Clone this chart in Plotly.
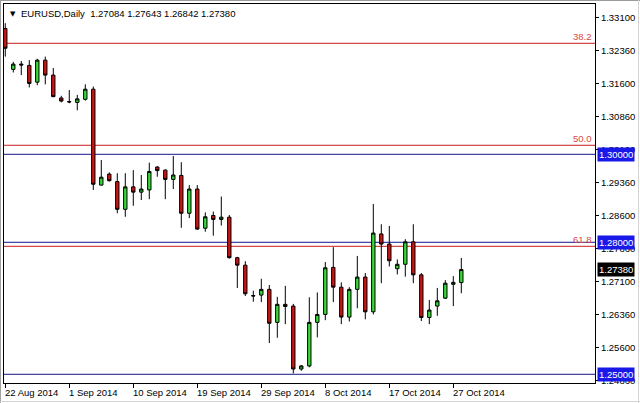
import plotly.graph_objects as go

# ---- data (EURUSD daily) ----
date_tick_labels = ["22 Aug 2014", "1 Sep 2014", "10 Sep 2014", "19 Sep 2014",
                    "29 Sep 2014", "8 Oct 2014", "17 Oct 2014", "27 Oct 2014"]
date_tick_index = [0, 8, 16, 24, 32, 40, 48, 56]

open_ = [1.3286, 1.3193, 1.3205, 1.3202, 1.3164, 1.3214, 1.3180, 1.3128, 1.3120, 1.3118,
         1.3125, 1.3148, 1.2930, 1.2955, 1.2938, 1.2875, 1.2926, 1.2914, 1.2919, 1.2971,
         1.2964, 1.2943, 1.2952, 1.2866, 1.2921, 1.2832, 1.2861, 1.2852, 1.2857, 1.2765,
         1.2748, 1.2679, 1.2680, 1.2693, 1.2618, 1.2659, 1.2655, 1.2512, 1.2519, 1.2618,
         1.2636, 1.2743, 1.2698, 1.2630, 1.2693, 1.2721, 1.2642, 1.2819, 1.2796, 1.2740,
         1.2750, 1.2801, 1.2726, 1.2629, 1.2655, 1.2673, 1.27045, 1.27084]
high = [1.3298, 1.3210, 1.3212, 1.3214, 1.3217, 1.3222, 1.3196, 1.3133, 1.3146, 1.3135,
        1.3159, 1.3154, 1.2987, 1.2959, 1.2957, 1.2957, 1.2964, 1.2953, 1.2981, 1.2973,
        1.2966, 1.2996, 1.2982, 1.2930, 1.2930, 1.2868, 1.2870, 1.2904, 1.2862, 1.2767,
        1.2757, 1.2690, 1.2717, 1.2703, 1.2676, 1.2701, 1.2660, 1.2521, 1.2675, 1.2686,
        1.2755, 1.2789, 1.2709, 1.2698, 1.2769, 1.2730, 1.2887, 1.2841, 1.2837, 1.2761,
        1.2807, 1.2841, 1.2730, 1.2669, 1.2696, 1.2714, 1.2723, 1.27643]
low = [1.3222, 1.3186, 1.3180, 1.3152, 1.3157, 1.3159, 1.3130, 1.3118, 1.3116, 1.3100,
       1.3122, 1.2919, 1.2929, 1.2938, 1.2866, 1.2858, 1.2883, 1.2896, 1.2898, 1.2949,
       1.2898, 1.2921, 1.2833, 1.2855, 1.2828, 1.2824, 1.2815, 1.2838, 1.2763, 1.2696,
       1.2678, 1.2665, 1.2664, 1.2571, 1.2583, 1.2614, 1.2502, 1.2508, 1.2516, 1.2584,
       1.2623, 1.2664, 1.2614, 1.2620, 1.2650, 1.2625, 1.2636, 1.2707, 1.2745, 1.2727,
       1.2722, 1.2707, 1.2621, 1.2614, 1.2633, 1.2671, 1.2655, 1.26842]
close = [1.3241, 1.3205, 1.3203, 1.3161, 1.3214, 1.3180, 1.3131, 1.3121, 1.3119, 1.3126,
         1.3148, 1.2932, 1.2948, 1.2940, 1.2875, 1.2926, 1.2914, 1.2921, 1.2961, 1.2963,
         1.2943, 1.2953, 1.2866, 1.2921, 1.2830, 1.2858, 1.2852, 1.2857, 1.2765, 1.2748,
         1.2683, 1.2678, 1.2693, 1.2616, 1.2659, 1.2654, 1.2512, 1.2519, 1.2618, 1.2636,
         1.2742, 1.2698, 1.2630, 1.2693, 1.2721, 1.2642, 1.2821, 1.2796, 1.2758, 1.2750,
         1.2801, 1.2726, 1.2629, 1.2646, 1.2667, 1.2707, 1.2709, 1.27380]
bar_index = list(range(len(open_)))

price_ticks = [1.33100, 1.32360, 1.31600, 1.30860, 1.30100, 1.29360,
               1.28600, 1.27860, 1.27100, 1.26360, 1.25600, 1.24860]

round_levels = [1.30000, 1.28000, 1.25000]
fib_levels = [1.32523, 1.30205, 1.27909]
fib_labels = ["38.2", "50.0", "61.8"]
last_price = 1.27380
header_text = "EURUSD,Daily  1.27084 1.27643 1.26842 1.27380"

# ---- styling ----
FONT = "Liberation Sans, Arial, sans-serif"
BULL = "#36DC36"
BEAR = "#CC1414"
FIB_COLOR = "#C81E1E"
LEVEL_COLOR = "#14148C"

W, H = 640, 403
ML, MR, MT, MB = 4, 45, 4, 20
PW, PH = W - ML - MR, H - MT - MB


def px_x(p):
    return (p - ML) / PW


def px_y(p):
    return (H - MB - p) / PH


fig = go.Figure()
fig.add_trace(go.Candlestick(
    x=bar_index, open=open_, high=high, low=low, close=close,
    increasing=dict(fillcolor=BULL, line=dict(color="black", width=1)),
    decreasing=dict(fillcolor=BEAR, line=dict(color="black", width=1)),
    whiskerwidth=0, hoverinfo="skip",
))

shapes = []
for lv in fib_levels:
    shapes.append(dict(type="line", xref="paper", x0=0, x1=1, yref="y", y0=lv, y1=lv,
                       line=dict(color=FIB_COLOR, width=1), layer="below"))
for lv in round_levels:
    shapes.append(dict(type="line", xref="paper", x0=0, x1=1, yref="y", y0=lv, y1=lv,
                       line=dict(color=LEVEL_COLOR, width=1), layer="below"))
# outer window frame (light gray)
shapes.append(dict(type="line", xref="paper", yref="paper",
                   x0=px_x(0), x1=px_x(W), y0=px_y(0.5), y1=px_y(0.5),
                   line=dict(color="#9A9A9A", width=1)))
shapes.append(dict(type="line", xref="paper", yref="paper",
                   x0=px_x(W - 1.5), x1=px_x(W - 1.5), y0=px_y(0), y1=px_y(H),
                   line=dict(color="#D4D4D4", width=1)))
shapes.append(dict(type="line", xref="paper", yref="paper",
                   x0=px_x(0.5), x1=px_x(0.5), y0=px_y(0), y1=px_y(H),
                   line=dict(color="#A0A0A0", width=1)))
shapes.append(dict(type="line", xref="paper", yref="paper",
                   x0=px_x(0), x1=px_x(W), y0=px_y(H - 1.5), y1=px_y(H - 1.5),
                   line=dict(color="#D4D4D4", width=1)))

annotations = []
for lv, lab in zip(fib_levels, fib_labels):
    annotations.append(dict(xref="paper", x=1, yref="y", y=lv, text=lab,
                            xanchor="right", yanchor="bottom", xshift=-1, yshift=-1,
                            showarrow=False, font=dict(family=FONT, size=9.5, color="#D84848")))
for lv in round_levels:
    annotations.append(dict(xref="paper", x=1, yref="y", y=lv, text=f"{lv:.5f}",
                            xanchor="left", yanchor="middle", xshift=2,
                            showarrow=False, bgcolor="#1818E8", borderpad=1,
                            font=dict(family=FONT, size=9.5, color="white")))
annotations.append(dict(xref="paper", x=1, yref="y", y=last_price, text=f"{last_price:.5f}",
                        xanchor="left", yanchor="middle", xshift=2,
                        showarrow=False, bgcolor="black", borderpad=1,
                        font=dict(family=FONT, size=9.5, color="white")))
for xi, lab in zip(date_tick_index, date_tick_labels):
    annotations.append(dict(xref="x", x=xi, yref="paper", y=0, text=lab,
                            xanchor="left", yanchor="top", xshift=-2, yshift=-2,
                            showarrow=False, font=dict(family=FONT, size=9.5, color="black")))
annotations.append(dict(xref="paper", x=0, yref="paper", y=1, text="▼",
                        xanchor="left", yanchor="top", xshift=4, yshift=-4,
                        showarrow=False, font=dict(family="DejaVu Sans", size=7, color="black")))
annotations.append(dict(xref="paper", x=0, yref="paper", y=1, text=header_text,
                        xanchor="left", yanchor="top", xshift=15, yshift=-2,
                        showarrow=False, font=dict(family=FONT, size=9.5, color="black")))

fig.update_layout(
    width=W, height=H,
    margin=dict(l=ML, r=MR, t=MT, b=MB),
    paper_bgcolor="white", plot_bgcolor="white",
    showlegend=False,
    boxgap=0.4,
    shapes=shapes, annotations=annotations,
    xaxis=dict(range=[-0.16, 73.71], tickvals=date_tick_index, showticklabels=False,
               ticks="outside", ticklen=4, tickcolor="black",
               showgrid=False, zeroline=False, showline=True, mirror=True,
               linecolor="black", linewidth=1, rangeslider=dict(visible=False)),
    yaxis=dict(side="right", range=[1.24802, 1.33416], tickvals=price_ticks,
               tickformat=".5f", ticks="outside", ticklen=3, tickcolor="black",
               showgrid=False, zeroline=False, showline=True, mirror=True,
               linecolor="black", linewidth=1,
               tickfont=dict(family=FONT, size=9.5, color="black")),
)

fig.write_html("out.html", config={"displayModeBar": False},
               post_script="document.body.style.margin='0';document.body.style.overflow='hidden';")
